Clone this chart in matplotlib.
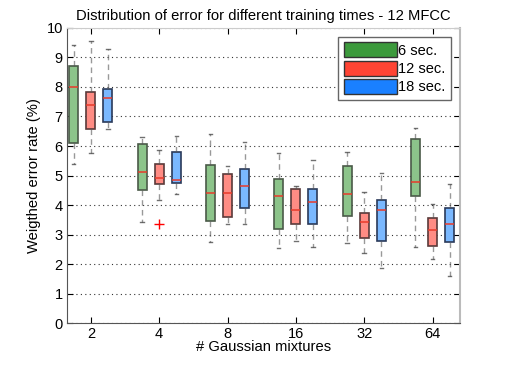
import numpy as np
import matplotlib.pyplot as plt

plt.rcParams['font.family'] = ['Liberation Sans', 'DejaVu Sans']

mixtures = ['2', '4', '8', '16', '32', '64']
series = ['6 sec.', '12 sec.', '18 sec.']

# box statistics: rows = series, cols = mixtures
whishi = [[9.42, 6.32, 6.42, 5.77, 5.78, 6.61],
          [9.56, 5.86, 5.33, 4.66, 4.43, 4.02],
          [9.29, 6.34, 6.15, 5.54, 5.08, 4.70]]
q3 = [[8.71, 6.06, 5.35, 4.88, 5.31, 6.23],
      [7.84, 5.38, 5.04, 4.53, 3.73, 3.55],
      [7.93, 5.79, 5.22, 4.53, 4.17, 3.89]]
med = [[8.01, 5.11, 4.42, 4.31, 4.36, 4.77],
       [7.38, 4.90, 4.40, 3.82, 3.41, 3.14],
       [7.62, 4.85, 4.66, 4.12, 3.82, 3.35]]
q1 = [[6.09, 4.50, 3.46, 3.19, 3.64, 4.29],
      [6.58, 4.70, 3.61, 3.37, 2.87, 2.60],
      [6.80, 4.74, 3.89, 3.37, 2.79, 2.74]]
whislo = [[5.39, 3.42, 2.74, 2.53, 2.70, 2.59],
          [5.75, 4.16, 3.35, 2.78, 2.36, 2.19],
          [6.56, 4.36, 3.35, 2.57, 1.87, 1.61]]
fliers = [[[], [], [], [], [], []],
          [[], [3.37], [], [], [], []],
          [[], [], [], [], [], []]]

fill_colors = ['#8cc48a', '#ff8c84', '#7ab8ff']
edge_colors = ['#4a5a48', '#5a3a3a', '#2a3a5a']
legend_colors = ['#3c9a3c', '#ff4433', '#1a80ff']
offsets = [-0.25, 0.0, 0.25]

fig = plt.figure(figsize=(5.07, 3.82), dpi=100)
ax = fig.add_axes([0.132, 0.154, 0.775, 0.773])

pos = np.arange(1, len(mixtures) + 1)
for s in range(len(series)):
    stats = []
    for m in range(len(mixtures)):
        stats.append(dict(med=med[s][m], q1=q1[s][m], q3=q3[s][m],
                          whislo=whislo[s][m], whishi=whishi[s][m],
                          fliers=fliers[s][m]))
    ax.bxp(stats, positions=pos + offsets[s], widths=0.13, patch_artist=True,
           boxprops=dict(facecolor=fill_colors[s], edgecolor=edge_colors[s], lw=1.2),
           medianprops=dict(color='#e83a2a', lw=1.1),
           whiskerprops=dict(color='#555555', lw=1.0, ls=(0, (4, 3)), alpha=0.6),
           capprops=dict(color='#333333', lw=1.0, alpha=0.7),
           flierprops=dict(marker='+', markeredgecolor='red', markersize=7, mew=1.0),
           capwidths=0.05, manage_ticks=False)

ax.set_xlim(0.65, 6.4)
ax.set_ylim(0, 10)
ax.set_xticks(pos)
ax.set_xticklabels(mixtures)
ax.set_yticks(range(0, 11))
ax.yaxis.grid(True, ls=(0, (1, 3)), color='#333333', lw=0.8)
ax.set_axisbelow(True)
ax.tick_params(direction='in', top=True, right=True, labelsize=10.5, length=4, pad=3)
for sp in ['left', 'bottom']:
    ax.spines[sp].set_color('#555555')
ax.spines['right'].set_color('#bbbbbb')
ax.spines['right'].set_linewidth(1.5)
ax.spines['top'].set_color('#cccccc')

ax.set_title('Distribution of error for different training times - 12 MFCC', fontsize=10.6, pad=6)
ax.set_xlabel('# Gaussian mixtures', fontsize=10.6, labelpad=-1)
ax.set_ylabel('Weigthed error rate (%)', fontsize=10.6)

handles = [plt.Rectangle((0, 0), 1, 1, facecolor=c, edgecolor='#333333') for c in legend_colors]
ax.legend(handles, series, loc='upper right', fontsize=10.5, fancybox=False,
          edgecolor='#666666', handlelength=3.6, handleheight=1.2, handletextpad=0.1,
          borderpad=0.4, labelspacing=0.2, borderaxespad=0.6, framealpha=1)

fig.savefig('out.png', dpi=100)
